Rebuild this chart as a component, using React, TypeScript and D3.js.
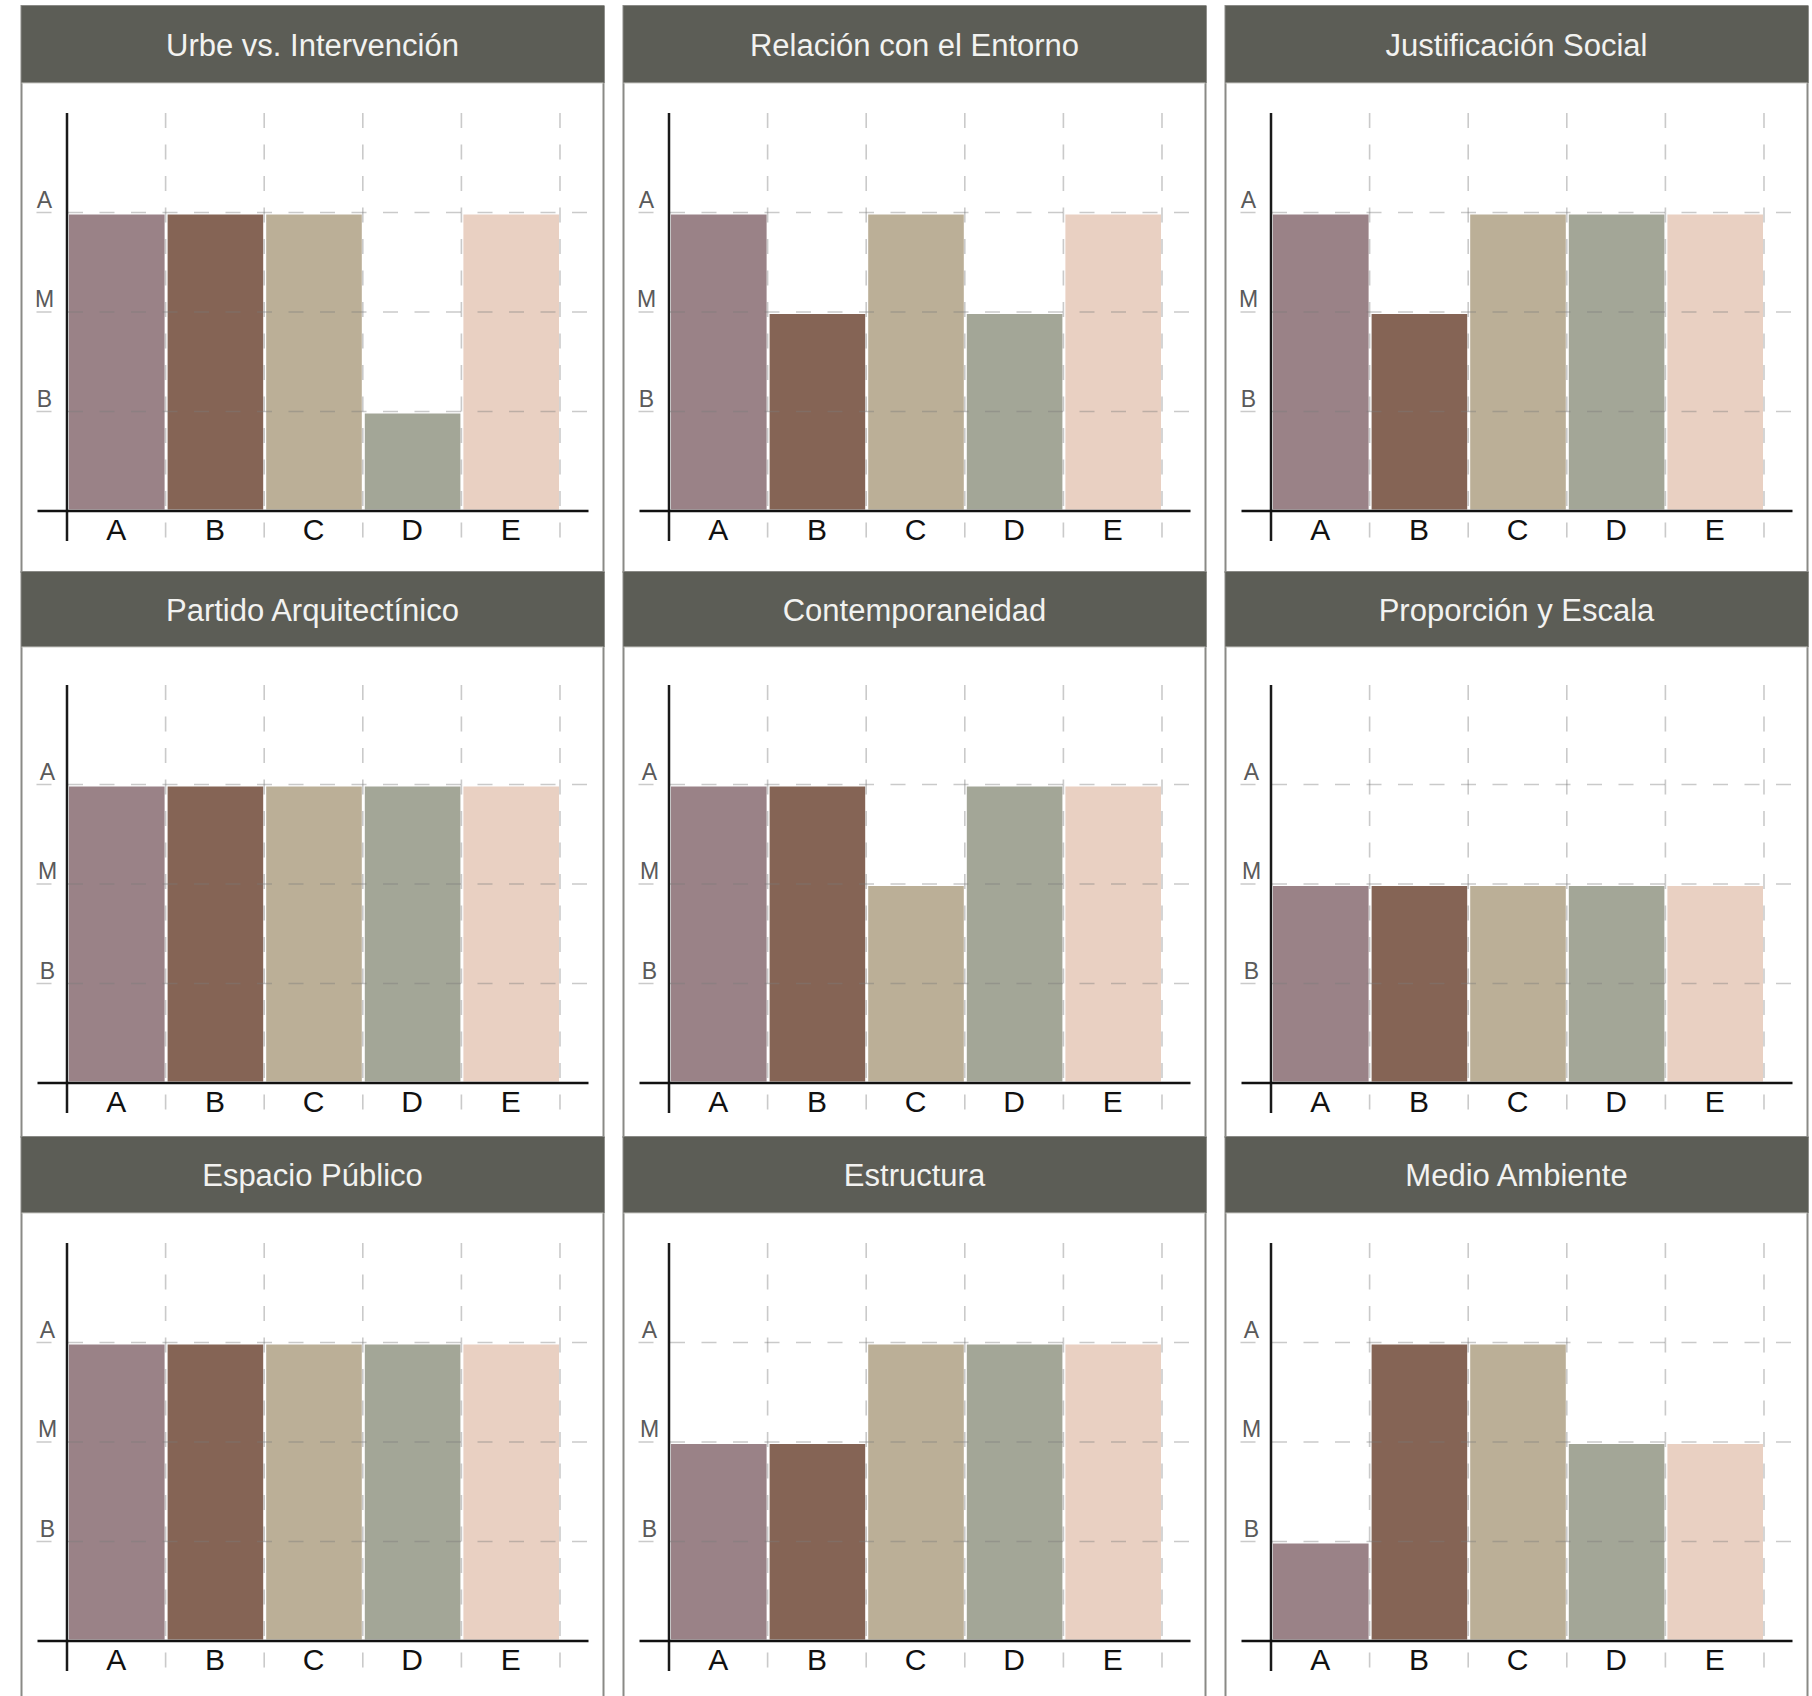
import React from "react";
import * as d3 from "d3";

const categories = ["A", "B", "C", "D", "E"];
const levelLabels = ["B", "M", "A"];
const levelValues = [1, 2, 3];
const titles = [
  "Urbe vs. Intervención",
  "Relación con el Entorno",
  "Justificación Social",
  "Partido Arquitectínico",
  "Contemporaneidad",
  "Proporción y Escala",
  "Espacio Público",
  "Estructura",
  "Medio Ambiente",
];
const urbe = [3, 3, 3, 1, 3];
const relacion = [3, 2, 3, 2, 3];
const justificacion = [3, 2, 3, 3, 3];
const partido = [3, 3, 3, 3, 3];
const contemporaneidad = [3, 3, 2, 3, 3];
const proporcion = [2, 2, 2, 2, 2];
const espacio = [3, 3, 3, 3, 3];
const estructura = [2, 2, 3, 3, 3];
const medio = [1, 3, 3, 2, 2];
const seriesList = [urbe, relacion, justificacion, partido, contemporaneidad, proporcion, espacio, estructura, medio];
const barColors = ["#9a8287", "#856455", "#bbaf97", "#a3a697", "#e9d0c2"];

const W = 1812;
const H = 1696;
const colLeft = [21.5, 623.5, 1225.5];
const panelW = 582;
const rowTop = [6, 572, 1137];
const headerH = [77, 75, 76];
const axisTop = [113, 685, 1243];
const plotH = 398;
const yLabelDx = [23, 26, 26];
const FONT = "'Liberation Sans', Arial, Helvetica, sans-serif";

function Panel({ r, c }: { r: number; c: number }) {
  const i = r * 3 + c;
  const left = colLeft[c];
  const right = left + panelW;
  const top = rowTop[r];
  const bottom = r < 2 ? rowTop[r + 1] : H + 10;
  const ax = left + 45.5;
  const plotW = 493;
  const x = d3.scaleBand<string>().domain(categories).range([ax, ax + plotW]).padding(0);
  const y = d3.scaleLinear().domain([0, 4]).range([axisTop[r] + plotH, axisTop[r]]);
  const step = x.step();
  const data = seriesList[i];
  const y0 = y(0);
  const gridStyle = { stroke: "#7a7a7a", strokeOpacity: 0.4, strokeWidth: 1.6, strokeDasharray: "15 16.5" };
  return (
    <g>
      <rect x={left} y={top} width={panelW} height={bottom - top} fill="#ffffff" stroke="#8a8a86" strokeWidth={2} />
      <rect x={left} y={top} width={panelW + 1} height={headerH[r]} fill="#5c5d56" />
      <line x1={left} x2={right} y1={top + headerH[r]} y2={top + headerH[r]} stroke="#c9c9c4" strokeWidth={1} />
      <text
        x={(left + right) / 2}
        y={top + headerH[r] / 2 + 11}
        textAnchor="middle"
        fill="#f2f2f0"
        fontFamily={FONT}
        fontSize={31}
      >
        {titles[i]}
      </text>
      {categories.map((cat, k) => (
        <rect
          key={cat}
          x={(x(cat) as number) + 2}
          y={y(data[k]) + 2}
          width={step - 3}
          height={y0 - 1.5 - (y(data[k]) + 2)}
          fill={barColors[k]}
        />
      ))}
      {levelValues.map((v) => (
        <line key={"h" + v} x1={left + 15} x2={right - 15} y1={y(v)} y2={y(v)} style={gridStyle} />
      ))}
      {categories.map((cat) => {
        const gx = (x(cat) as number) + step;
        return <line key={"v" + cat} x1={gx} x2={gx} y1={axisTop[r]} y2={y0 + 30} style={gridStyle} />;
      })}
      <line x1={ax} x2={ax} y1={axisTop[r]} y2={y0 + 30} stroke="#1a1a1a" strokeWidth={2.5} />
      <line x1={left + 16} x2={right - 15} y1={y0} y2={y0} stroke="#111111" strokeWidth={2.7} />
      {levelValues.map((v, k) => (
        <text
          key={"yl" + v}
          x={left + yLabelDx[r]}
          y={y(v) - 5}
          textAnchor="middle"
          fill="#5a5a5a"
          fontFamily={FONT}
          fontSize={23}
        >
          {levelLabels[k]}
        </text>
      ))}
      {categories.map((cat) => (
        <text
          key={"xl" + cat}
          x={(x(cat) as number) + step / 2}
          y={y0 + 29}
          textAnchor="middle"
          fill="#111111"
          fontFamily={FONT}
          fontSize={30}
        >
          {cat}
        </text>
      ))}
    </g>
  );
}

export default function App() {
  const cells: [number, number][] = [];
  for (let r = 0; r < 3; r++) for (let c = 0; c < 3; c++) cells.push([r, c]);
  return (
    <svg
      width={W}
      height={H}
      viewBox={`0 0 ${W} ${H}`}
      style={{ position: "absolute", left: 0, top: 0, background: "#ffffff" }}
    >
      <rect x={0} y={0} width={W} height={H} fill="#ffffff" />
      {cells.map(([r, c]) => (
        <Panel key={`${r}-${c}`} r={r} c={c} />
      ))}
    </svg>
  );
}
